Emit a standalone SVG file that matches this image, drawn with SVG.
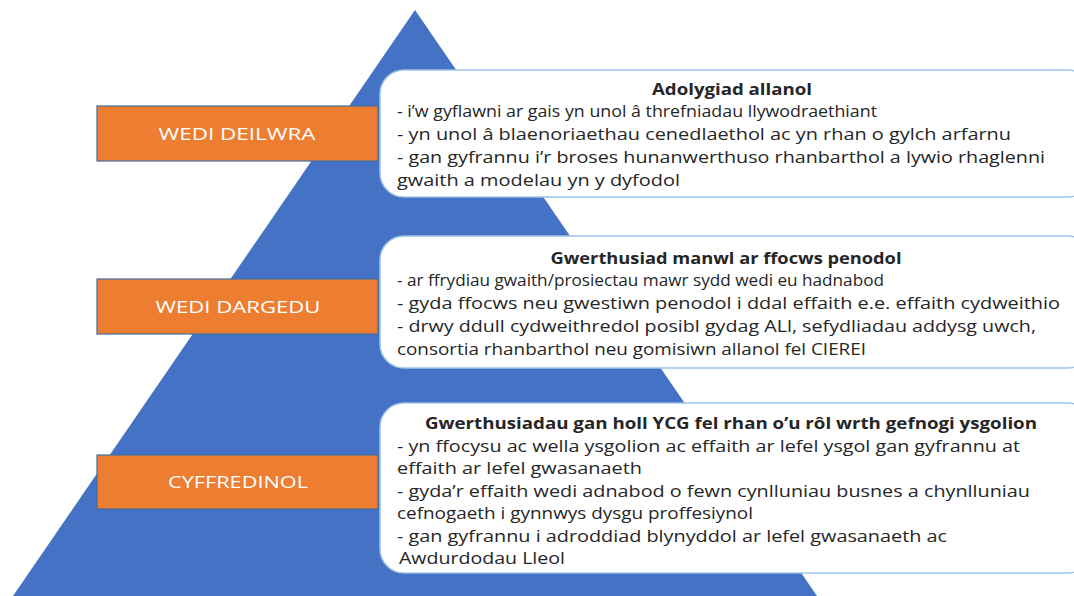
<svg xmlns="http://www.w3.org/2000/svg" width="1074" height="596" viewBox="0 0 1074 596">
<style>
.lbl rect{fill:#ED7D31;stroke:#41719C;stroke-width:1.2}
.lbl text{fill:#FFFFFF;font-family:"Open Sans","Liberation Sans",Arial,sans-serif;font-size:17px;text-anchor:middle}
.box rect{fill:#FFFFFF;stroke:#9DC3E6;stroke-width:1.5}
.box text{fill:#262626;font-family:"Open Sans","Liberation Sans",Arial,sans-serif;font-size:16.5px}
.box .t{font-weight:bold;text-anchor:middle}
</style>
<rect x="0" y="0" width="1074" height="596" fill="#FFFFFF"/>
<polygon id="pyramid" points="415,10 13,596 817,596" fill="#4472C4"/>
<g id="connectors"></g>
<g id="label-deilwra" class="lbl"><rect x="97" y="106" width="281" height="55"/><text x="237" y="140" textLength="157" lengthAdjust="spacingAndGlyphs">WEDI DEILWRA</text></g>
<g id="label-dargedu" class="lbl"><rect x="97" y="279" width="281" height="55"/><text x="238" y="313" textLength="165" lengthAdjust="spacingAndGlyphs">WEDI DARGEDU</text></g>
<g id="label-cyffredinol" class="lbl"><rect x="97" y="455" width="281" height="54"/><text x="238" y="488" textLength="140" lengthAdjust="spacingAndGlyphs">CYFFREDINOL</text></g>
<g id="box-adolygiad" class="box"><rect x="380" y="70" width="712" height="127" rx="24"/>
<text class="t" x="732" y="95" textLength="160" lengthAdjust="spacingAndGlyphs">Adolygiad allanol</text>
<text x="397" y="117" textLength="480" lengthAdjust="spacingAndGlyphs">- i’w gyflawni ar gais yn unol â threfniadau llywodraethiant</text>
<text x="397" y="140" textLength="614" lengthAdjust="spacingAndGlyphs">- yn unol â blaenoriaethau  cenedlaethol  ac yn rhan o gylch arfarnu</text>
<text x="397" y="163" textLength="648" lengthAdjust="spacingAndGlyphs">- gan gyfrannu i’r broses hunanwerthuso rhanbarthol a lywio rhaglenni</text>
<text x="397" y="186" textLength="283" lengthAdjust="spacingAndGlyphs">gwaith a modelau yn y dyfodol</text>
</g>
<g id="box-gwerthusiad" class="box"><rect x="380" y="236" width="712" height="132" rx="24"/>
<text class="t" x="726" y="264" textLength="351" lengthAdjust="spacingAndGlyphs">Gwerthusiad manwl ar ffocws penodol</text>
<text x="397" y="286" textLength="487" lengthAdjust="spacingAndGlyphs">- ar ffrydiau gwaith/prosiectau mawr sydd wedi eu hadnabod</text>
<text x="397" y="309" textLength="663" lengthAdjust="spacingAndGlyphs">- gyda ffocws neu gwestiwn penodol i ddal effaith e.e. effaith cydweithio</text>
<text x="397" y="332" textLength="639" lengthAdjust="spacingAndGlyphs">- drwy ddull cydweithredol posibl gydag ALl, sefydliadau addysg uwch,</text>
<text x="397" y="355" textLength="469" lengthAdjust="spacingAndGlyphs">consortia rhanbarthol neu gomisiwn allanol fel CIEREI</text>
</g>
<g id="box-ycg" class="box"><rect x="380" y="403" width="712" height="170" rx="24"/>
<text class="t" x="731" y="429" textLength="612" lengthAdjust="spacingAndGlyphs">Gwerthusiadau gan holl YCG fel rhan o’u rôl wrth gefnogi ysgolion</text>
<text x="397" y="452" textLength="623" lengthAdjust="spacingAndGlyphs">- yn ffocysu ac wella ysgolion ac effaith ar lefel ysgol gan gyfrannu at</text>
<text x="397" y="474" textLength="245" lengthAdjust="spacingAndGlyphs">effaith ar lefel gwasanaeth</text>
<text x="397" y="497" textLength="633" lengthAdjust="spacingAndGlyphs">- gyda’r effaith wedi adnabod o fewn cynlluniau busnes a chynlluniau</text>
<text x="397" y="519" textLength="356" lengthAdjust="spacingAndGlyphs">cefnogaeth i gynnwys dysgu proffesiynol</text>
<text x="397" y="542" textLength="550" lengthAdjust="spacingAndGlyphs">- gan gyfrannu i adroddiad blynyddol ar lefel gwasanaeth ac</text>
<text x="399" y="564" textLength="166" lengthAdjust="spacingAndGlyphs">Awdurdodau Lleol</text>
</g>
</svg>
